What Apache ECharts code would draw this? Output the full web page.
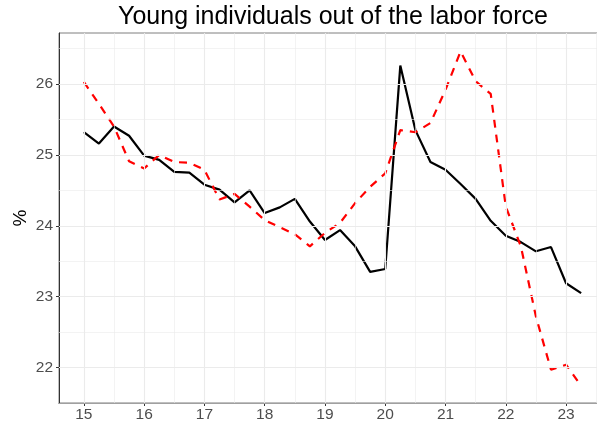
<!DOCTYPE html>
<html>
<head>
<meta charset="utf-8">
<script src="https://cdn.jsdelivr.net/npm/echarts@6/dist/echarts.min.js"></script>
<style>
html,body{margin:0;padding:0;background:#fff;}
#chart{width:597px;height:425px;}
</style>
</head>
<body>
<div id="chart"></div>
<script>
var quarters = [15, 15.25, 15.5, 15.75, 16, 16.25, 16.5, 16.75, 17, 17.25, 17.5, 17.75,
  18, 18.25, 18.5, 18.75, 19, 19.25, 19.5, 19.75, 20, 20.25, 20.5, 20.75,
  21, 21.25, 21.5, 21.75, 22, 22.25, 22.5, 22.75, 23, 23.25];
var blackSeries = [25.32, 25.16, 25.40, 25.27, 24.99, 24.93, 24.76, 24.75, 24.58, 24.51, 24.33, 24.50,
  24.18, 24.26, 24.38, 24.06, 23.80, 23.94, 23.71, 23.35, 23.39, 26.26, 25.35, 24.90,
  24.79, 24.59, 24.38, 24.07, 23.86, 23.77, 23.64, 23.70, 23.19, 23.05];
var redSeries = [26.03, 25.72, 25.40, 24.91, 24.81, 25.00, 24.90, 24.89, 24.79, 24.37, 24.45, 24.27,
  24.08, 23.98, 23.88, 23.71, 23.90, 24.04, 24.32, 24.55, 24.74, 25.35, 25.32, 25.45,
  25.92, 26.46, 26.04, 25.86, 24.27, 23.71, 22.72, 21.97, 22.04, 21.74];
var xTicks = [15, 16, 17, 18, 19, 20, 21, 22, 23];
var yTicks = [22, 23, 24, 25, 26];
var xMinor = [14.5, 15.5, 16.5, 17.5, 18.5, 19.5, 20.5, 21.5, 22.5, 23.5];
var yMinor = [21.5, 22.5, 23.5, 24.5, 25.5, 26.5];
var titleText = 'Young individuals out of the labor force';
var yName = '%';

function pairs(xs, ys) { return xs.map(function (x, i) { return [x, ys[i]]; }); }

var gridLines = [];
xMinor.forEach(function (v) { gridLines.push({ xAxis: v, lineStyle: { width: 0.6 } }); });
yMinor.forEach(function (v) { gridLines.push({ yAxis: v, lineStyle: { width: 0.6 } }); });
xTicks.forEach(function (v) { gridLines.push({ xAxis: v, lineStyle: { width: 1.1 } }); });
yTicks.forEach(function (v) { gridLines.push({ yAxis: v, lineStyle: { width: 1.1 } }); });

var chart = echarts.init(document.getElementById('chart'), null, { renderer: 'canvas' });
chart.setOption({
  animation: false,
  backgroundColor: '#ffffff',
  textStyle: { fontFamily: 'Liberation Sans, Arial, sans-serif' },
  title: {
    text: titleText,
    left: 328,
    textAlign: 'center',
    top: 0,
    textStyle: { fontSize: 25, fontWeight: 'normal', color: '#000', fontFamily: 'Liberation Sans, Arial, sans-serif' }
  },
  grid: {
    left: 59, right: -9, top: 33, bottom: 22,
    outerBoundsMode: 'none',
    containLabel: false,
    show: true, borderColor: '#7f7f7f', borderWidth: 1, backgroundColor: '#fff'
  },
  xAxis: {
    type: 'value', min: 14.5875, max: 23.6625,
    axisLine: { show: true, onZero: false, lineStyle: { color: '#333', width: 1 } },
    axisTick: { show: true, length: 3, customValues: xTicks, lineStyle: { color: '#333' } },
    axisLabel: { customValues: xTicks, color: '#4d4d4d', fontSize: 15.5, margin: 4 },
    splitLine: { show: false }
  },
  yAxis: {
    type: 'value', min: 21.50, max: 26.72,
    name: yName, nameLocation: 'middle', nameGap: 29, nameRotate: 90,
    nameMoveOverlap: false,
    nameTextStyle: { fontSize: 19, color: '#000' },
    axisLine: { show: true, onZero: false, lineStyle: { color: '#333', width: 1 } },
    axisTick: { show: true, length: 3, customValues: yTicks, lineStyle: { color: '#333' } },
    axisLabel: { customValues: yTicks, color: '#4d4d4d', fontSize: 15.5, margin: 6 },
    splitLine: { show: false }
  },
  series: [
    {
      type: 'line', data: [], silent: true, z: 1,
      markLine: {
        silent: true, symbol: 'none', animation: false,
        label: { show: false },
        lineStyle: { color: '#ebebeb', type: 'solid' },
        emphasis: { disabled: true },
        data: gridLines
      }
    },
    {
      type: 'line', data: pairs(quarters, blackSeries), z: 3,
      showSymbol: false, symbol: 'none',
      lineStyle: { color: '#000', width: 2.2, type: 'solid' }
    },
    {
      type: 'line', data: pairs(quarters, redSeries), z: 4,
      showSymbol: false, symbol: 'none',
      lineStyle: { color: '#ff0000', width: 2.2, type: [8, 7] }
    }
  ]
});
</script>
</body>
</html>
